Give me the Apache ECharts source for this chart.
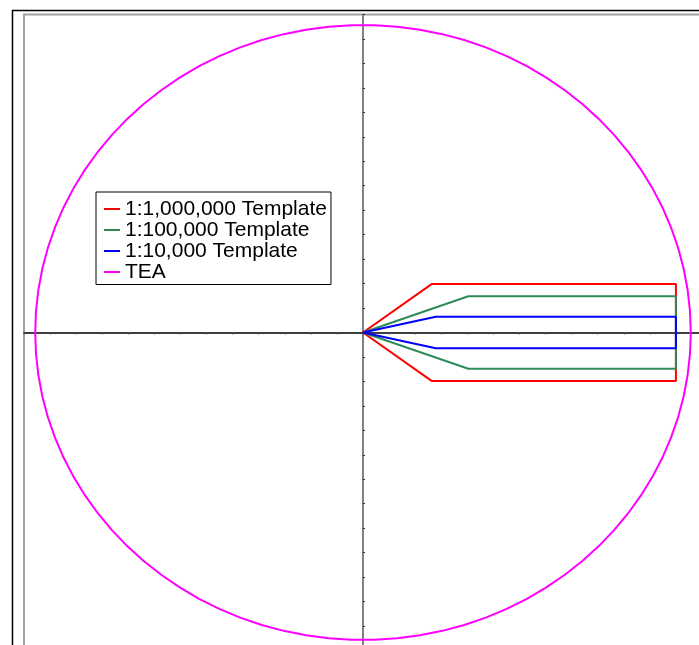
<!DOCTYPE html>
<html>
<head>
<meta charset="utf-8">
<script src="https://cdn.jsdelivr.net/npm/echarts@6/dist/echarts.min.js"></script>
<style>
  html, body { margin: 0; padding: 0; background: #fff; overflow: hidden; }
  #chart { width: 699px; height: 645px; }
</style>
</head>
<body>
<div id="chart"></div>
<script>
// Series names shown in the legend
const seriesNames = ['1:1,000,000 Template', '1:100,000 Template', '1:10,000 Template', 'TEA'];

// Template outlines: apex at origin, splay out, then run parallel to x = 12
const template1M = [[0, 0], [2.63, 1.98], [12, 1.98], [12, -1.98], [2.63, -1.98], [0, 0]];
const template100k = [[0, 0], [4.04, 1.48], [12, 1.48], [12, -1.48], [4.04, -1.48], [0, 0]];
const template10k = [[0, 0], [2.79, 0.645], [12, 0.645], [12, -0.645], [2.79, -0.645], [0, 0]];

// TEA boundary: centre x, centre y, radius
const teaCircle = [[0, 0, 12.57]];

// Axis range (both axes)
const axisMin = -13;
const axisMax = 13;

const colors = ['#ff0000', '#2e8b57', '#0000ff', '#ff00ff'];

const chart = echarts.init(document.getElementById('chart'), null, { renderer: 'canvas' });

function lineSeries(name, data, color) {
  return {
    name: name,
    type: 'line',
    data: data,
    showSymbol: false,
    symbol: 'none',
    silent: true,
    animation: false,
    z: 5,
    lineStyle: { color: color, width: 2 },
    itemStyle: { color: color }
  };
}

const option = {
  animation: false,
  backgroundColor: '#ffffff',
  graphic: [
    {
      type: 'rect',
      position: [12, 10],
      shape: { x: 0.5, y: 0.5, width: 1000, height: 1000 },
      style: { fill: 'none', stroke: '#000', lineWidth: 1.5 },
      silent: true,
      z: 0
    }
  ],
  grid: {
    left: 24,
    top: 14.5,
    width: 678,
    height: 636,
    outerBoundsMode: 'none',
    containLabel: false,
    show: true,
    borderColor: '#a0a0a0',
    borderWidth: 2,
    backgroundColor: 'transparent'
  },
  legend: {
    orient: 'vertical',
    left: 96,
    top: 192,
    padding: [6.5, 4, 2, 8],
    itemGap: 0,
    itemWidth: 16,
    itemHeight: 2,
    icon: 'rect',
    backgroundColor: '#fff',
    borderColor: '#000',
    borderWidth: 1,
    borderRadius: 0,
    selectedMode: false,
    textStyle: {
      fontFamily: 'Liberation Sans, Arial, sans-serif',
      fontSize: 21,
      lineHeight: 21,
      color: '#000'
    },
    data: seriesNames.map((n, i) => ({ name: n, itemStyle: { color: colors[i] } }))
  },
  xAxis: {
    type: 'value',
    min: axisMin,
    max: axisMax,
    interval: 1,
    axisLine: { onZero: true, lineStyle: { color: '#000', width: 1.5 } },
    axisTick: { show: true, length: 2, inside: false, lineStyle: { color: '#555', width: 1 } },
    axisLabel: { show: false },
    splitLine: { show: false }
  },
  yAxis: {
    type: 'value',
    min: axisMin,
    max: axisMax,
    interval: 1,
    axisLine: { onZero: true, lineStyle: { color: '#808080', width: 2 } },
    axisTick: { show: true, length: 2, inside: true, lineStyle: { color: '#333', width: 1 } },
    axisLabel: { show: false },
    splitLine: { show: false }
  },
  series: [
    lineSeries(seriesNames[0], template1M, colors[0]),
    lineSeries(seriesNames[1], template100k, colors[1]),
    lineSeries(seriesNames[2], template10k, colors[2]),
    {
      name: seriesNames[3],
      type: 'custom',
      silent: true,
      z: 4,
      itemStyle: { color: colors[3] },
      data: teaCircle,
      encode: { x: 0, y: 1 },
      renderItem: function (params, api) {
        const cx = api.value(0);
        const cy = api.value(1);
        const r = api.value(2);
        const pts = [];
        const steps = 90;
        for (let k = 0; k < steps; k++) {
          const a = (k / steps) * Math.PI * 2;
          pts.push(api.coord([cx + r * Math.cos(a), cy + r * Math.sin(a)]));
        }
        return {
          type: 'polygon',
          shape: { points: pts },
          style: { fill: 'none', stroke: colors[3], lineWidth: 2 }
        };
      }
    }
  ]
};

chart.setOption(option);
</script>
</body>
</html>
